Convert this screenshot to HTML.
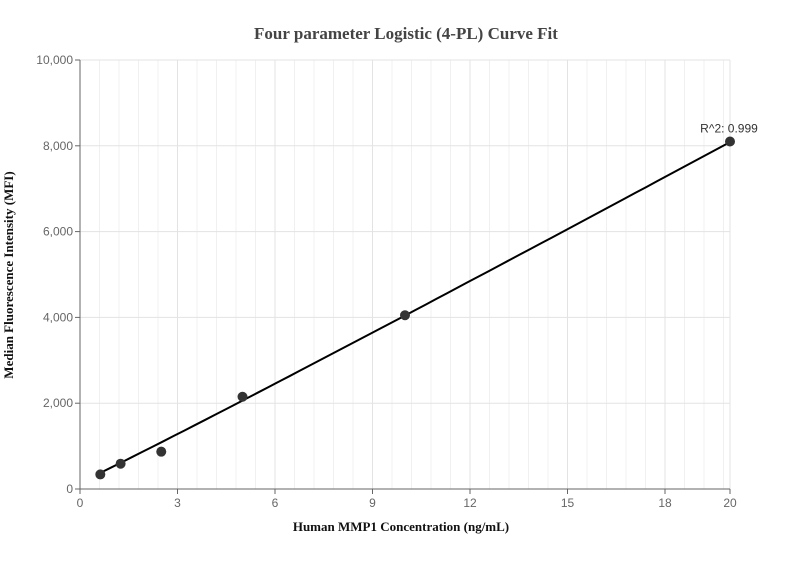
<!DOCTYPE html>
<html><head><meta charset="utf-8"><style>
body{margin:0;background:#fff;width:811px;height:560px;overflow:hidden}
text{font-family:"Liberation Sans",sans-serif}
</style></head><body>
<svg id="chart" width="811" height="560" xmlns="http://www.w3.org/2000/svg">
<text x="406" y="39" text-anchor="middle" font-family="Liberation Serif" style="font-family:'Liberation Serif',serif" font-size="17" font-weight="bold" fill="#444">Four parameter Logistic (4-PL) Curve Fit</text>
<text x="401" y="531" text-anchor="middle" style="font-family:'Liberation Serif',serif" font-size="13" font-weight="bold" fill="#111">Human MMP1 Concentration  (ng/mL)</text>
<text transform="translate(13,275) rotate(-90)" text-anchor="middle" style="font-family:'Liberation Serif',serif" font-size="13" font-weight="bold" fill="#111">Median Fluorescence Intensity (MFI)</text>
<g id="grid"></g><g id="axes"></g><g id="marks"></g>
</svg>
<script>
const xTicks=[0,3,6,9,12,15,18,20];
const yTicks=[0,2000,4000,6000,8000,10000];
const xVals=[0.625,1.25,2.5,5,10,20];
const yVals=[340,590,870,2150,4050,8100];
const fitParams=[150,366,1.027];
const r2Label="R^2: 0.999";
const X0=80,X1=730,Y0=489,Y1=60;
const sx=v=>X0+(v-0)/20*(X1-X0);
const sy=v=>Y0-(v/10000)*(Y0-Y1);
const NS="http://www.w3.org/2000/svg";
function mk(t,a,p){const e=document.createElementNS(NS,t);for(const k in a)e.setAttribute(k,a[k]);p.appendChild(e);return e;}
const grid=document.getElementById('grid'),axes=document.getElementById('axes'),marks=document.getElementById('marks');
for(let v=0;v<=20.001;v+=0.6){const l=mk('line',{x1:sx(v),x2:sx(v),y1:Y1,y2:Y0,stroke:'#f0f0f0'},grid);

}
xTicks.forEach(v=>{const l=mk('line',{x1:sx(v),x2:sx(v),y1:Y1,y2:Y0,stroke:'#e3e3e3'},grid);


const tk=mk('line',{x1:sx(v),x2:sx(v),y1:Y0,y2:Y0+5,stroke:'#666'},axes);


const t=mk('text',{x:sx(v),y:Y0+18,'text-anchor':'middle','font-size':12,fill:'#666'},axes);t.textContent=v;

});
yTicks.forEach(v=>{const l=mk('line',{x1:X0,x2:X1,y1:sy(v),y2:sy(v),stroke:'#e3e3e3'},grid);


const tk=mk('line',{x1:X0-5,x2:X0,y1:sy(v),y2:sy(v),stroke:'#666'},axes);


const t=mk('text',{x:X0-7,y:sy(v)+4,'text-anchor':'end','font-size':12,fill:'#666'},axes);t.textContent=v.toLocaleString('en-US');

});
const ax=mk('path',{d:`M${X0},${Y1}V${Y0}H${X1}`,fill:'none',stroke:'#666'},axes);


let d='';const xs=xVals[0],xe=xVals[xVals.length-1];
for(let i=0;i<=60;i++){const x=xs+(xe-xs)*i/60;const y=fitParams[0]+fitParams[1]*Math.pow(x,fitParams[2]);d+=(i?'L':'M')+sx(x).toFixed(1)+','+sy(y).toFixed(1);}
const c=mk('path',{d:d,fill:'none',stroke:'#000','stroke-width':2},marks);


xVals.forEach((x,i)=>{const p=mk('circle',{cx:sx(x),cy:sy(yVals[i]),r:5,fill:'#333'},marks);

});
const r=mk('text',{x:sx(xe)-1,y:sy(yVals[yVals.length-1])-9,'text-anchor':'middle','font-size':12,fill:'#333'},marks);r.textContent=r2Label;


</script>
</body></html>
